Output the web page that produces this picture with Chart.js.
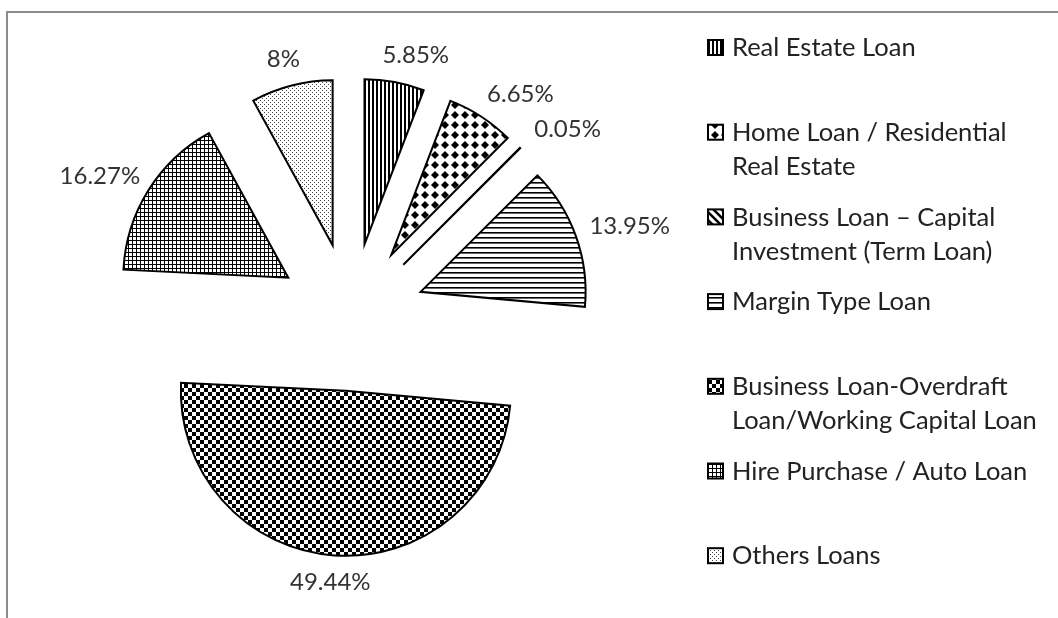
<!DOCTYPE html>
<html>
<head>
<meta charset="utf-8">
<script src="https://cdn.jsdelivr.net/npm/chart.js@4.4.1/dist/chart.umd.min.js"></script>
<style>
    html, body { margin: 0; padding: 0; background: #fff; }
    #wrap { position: relative; width: 1058px; height: 618px; }
</style>
</head>
<body>
<div id="wrap"><canvas id="loanPie"></canvas></div>
<script>
const categories = [
    ['Real Estate Loan'],
    ['Home Loan / Residential', 'Real Estate'],
    ['Business Loan \u2013 Capital', 'Investment (Term Loan)'],
    ['Margin Type Loan'],
    ['Business Loan-Overdraft', 'Loan/Working Capital Loan'],
    ['Hire Purchase / Auto Loan'],
    ['Others Loans']
];
const shares = [5.85, 6.65, 0.05, 13.95, 49.44, 16.27, 8];
const patternKinds = ['vertical', 'diamond', 'diagonal', 'horizontal', 'checker', 'grid', 'dots'];

// small black and white tiles, like the old Excel pattern fills
function makePattern(kind) {
    const sizes = { vertical: 4, diamond: 10, diagonal: 8, horizontal: 5, checker: 8, grid: 4, dots: 4 };
    const s = sizes[kind];
    const c = document.createElement('canvas');
    c.width = s; c.height = s;
    const g = c.getContext('2d');
    g.fillStyle = '#fff';
    g.fillRect(0, 0, s, s);
    g.fillStyle = '#000';
    if (kind === 'vertical') {
        g.fillRect(0, 0, 2, s);
    } else if (kind === 'diamond') {
        g.beginPath();
        g.moveTo(5, 1); g.lineTo(9, 5); g.lineTo(5, 9); g.lineTo(1, 5);
        g.closePath();
        g.fill();
    } else if (kind === 'diagonal') {
        g.strokeStyle = '#000';
        g.lineWidth = 2.5;
        g.beginPath();
        g.moveTo(-2, -2); g.lineTo(s + 2, s + 2);
        g.moveTo(-2, s - 2); g.lineTo(2, s + 2);
        g.moveTo(s - 2, -2); g.lineTo(s + 2, 2);
        g.stroke();
    } else if (kind === 'horizontal') {
        g.fillRect(0, 2, s, 1.6);
    } else if (kind === 'checker') {
        g.fillRect(0, 0, 4, 4);
        g.fillRect(4, 4, 4, 4);
    } else if (kind === 'grid') {
        g.fillRect(0, 0, s, 1);
        g.fillRect(0, 0, 1, s);
    } else if (kind === 'dots') {
        g.fillStyle = '#444';
        g.fillRect(0, 0, 1, 1);
        g.fillRect(2, 2, 1, 1);
    }
    return g.createPattern(c, 'repeat');
}

const patterns = patternKinds.map(makePattern);
const EXPLODE = 74;

// pull every slice out along its own bisector
const explodePlugin = {
    id: 'explode',
    afterDatasetUpdate(chart, args) {
        args.meta.data.forEach(arc => {
            const mid = (arc.startAngle + arc.endAngle) / 2;
            arc.x += Math.cos(mid) * EXPLODE;
            arc.y += Math.sin(mid) * EXPLODE;
        });
    }
};

const framePlugin = {
    id: 'frame',
    beforeDraw(chart) {
        const ctx = chart.ctx;
        ctx.save();
        ctx.strokeStyle = '#8c8c8c';
        ctx.lineWidth = 2;
        ctx.beginPath();
        ctx.moveTo(7, chart.height);
        ctx.lineTo(7, 12);
        ctx.lineTo(chart.width, 12);
        ctx.stroke();
        ctx.restore();
    }
};

const percentLabels = {
    id: 'percentLabels',
    afterDatasetsDraw(chart) {
        const ctx = chart.ctx;
        const meta = chart.getDatasetMeta(0);
        ctx.save();
        ctx.font = '24px Lato';
        ctx.fillStyle = '#333';
        ctx.textAlign = 'center';
        ctx.textBaseline = 'middle';
        meta.data.forEach((arc, i) => {
            const text = shares[i] + '%';
            const mid = (arc.startAngle + arc.endAngle) / 2;
            const dx = Math.cos(mid), dy = Math.sin(mid);
            const r = arc.outerRadius + 17;
            const w = ctx.measureText(text).width;
            const x = arc.x + dx * r + dx * w / 2 + (dx > 0.15 && dy < -0.5 ? 12 : 0);
            const y = arc.y + dy * r + dy * 10;
            ctx.fillText(text, x, y);
        });
        ctx.restore();
    }
};

const sideLegend = {
    id: 'sideLegend',
    afterDraw(chart) {
        const ctx = chart.ctx;
        const x0 = 708, top = 48, step = 84.7, lineH = 34;
        ctx.save();
        ctx.font = '25.5px Lato';
        ctx.textAlign = 'left';
        ctx.textBaseline = 'middle';
        chart.data.labels.forEach((lines, i) => {
            const y = top + i * step;
            ctx.fillStyle = patterns[i];
            ctx.fillRect(x0, y - 8, 15, 15);
            ctx.strokeStyle = '#000';
            ctx.lineWidth = 2;
            ctx.strokeRect(x0, y - 8, 15, 15);
            ctx.fillStyle = '#222';
            lines.forEach((line, j) => ctx.fillText(line, x0 + 24, y + j * lineH));
        });
        ctx.restore();
    }
};

new Chart(document.getElementById('loanPie'), {
    type: 'pie',
    data: {
        labels: categories,
        datasets: [{
            data: shares,
            backgroundColor: patterns,
            borderColor: '#000',
            borderWidth: 2,
            borderJoinStyle: 'miter',
            offset: 0
        }]
    },
    options: {
        responsive: true,
        maintainAspectRatio: false,
        animation: false,
        radius: 165,
        layout: { padding: { left: 0, right: 356, top: 16, bottom: 0 } },
        plugins: {
            legend: { display: false },
            tooltip: { enabled: false }
        }
    },
    plugins: [explodePlugin, framePlugin, percentLabels, sideLegend]
});
</script>
</body>
</html>
